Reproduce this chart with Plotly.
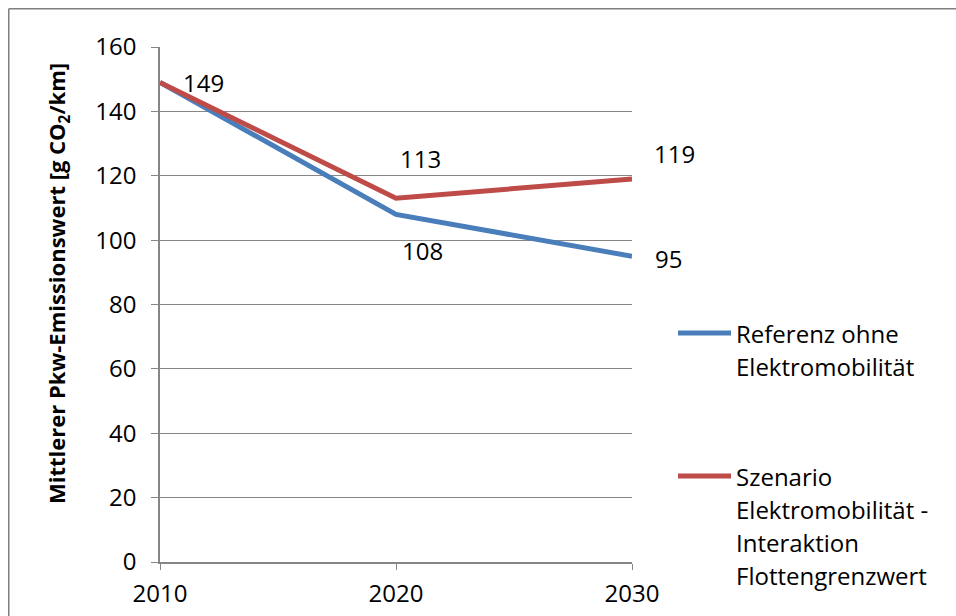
import plotly.graph_objects as go

years = [2010, 2020, 2030]
referenz = [149, 108, 95]
szenario = [149, 113, 119]
series_names = ["Referenz ohne Elektromobilität",
                "Szenario Elektromobilität - Interaktion Flottengrenzwert"]
legend_lines = [["Referenz ohne", "Elektromobilität"],
                ["Szenario", "Elektromobilität -", "Interaktion", "Flottengrenzwert"]]
colors = ["#4A7EBB", "#BE4B48"]
y_ticks = [0, 20, 40, 60, 80, 100, 120, 140, 160]
y_title = "Mittlerer Pkw-Emissionswert [g CO<sub>2</sub>/km]"

FONT = "Open Sans"
FS = 24
OFF = 0  # page body margin (removed via post_script)
W, H = 956, 616
PL, PT, PR, PB = 160, 47, 632, 562  # plot area in page pixels
ML, MT = PL - OFF, PT - OFF
PW, PH = PR - PL, PB - PT
MR, MB = W - ML - PW, H - MT - PH


def px_x(px):
    return (px - PL) / PW


def px_y(py):
    return (PB - py) / PH


fig = go.Figure()
for name, vals, col in zip(series_names, [referenz, szenario], colors):
    fig.add_trace(go.Scatter(x=years, y=vals, mode="lines", name=name,
                             line=dict(color=col, width=5), showlegend=False))

# data labels (offsets in pixels)
label_offsets = {
    0: [(43, 0), (26, -36), (36, -2)],
    1: [(None, None), (24, 40), (42, 25)],
}
for si, vals in enumerate([referenz, szenario]):
    for i, (x, v) in enumerate(zip(years, vals)):
        dx, dy = label_offsets[si][i]
        if dx is None:
            continue
        fig.add_annotation(x=x, y=v, xref="x", yref="y", text=str(v), showarrow=False,
                           xshift=dx, yshift=dy, xanchor="center", yanchor="middle",
                           font=dict(family=FONT, size=FS, color="#000000"))

# custom legend
legend_top = [333, 476]
line_gap = 33
for col, lines, ytop in zip(colors, legend_lines, legend_top):
    fig.add_shape(type="line", xref="paper", yref="paper",
                  x0=px_x(678), x1=px_x(731), y0=px_y(ytop), y1=px_y(ytop),
                  line=dict(color=col, width=5))
    for k, t in enumerate(lines):
        fig.add_annotation(xref="paper", yref="paper", x=px_x(734), y=px_y(ytop + k * line_gap),
                           text=t, showarrow=False, xanchor="left", yanchor="middle",
                           font=dict(family=FONT, size=FS, color="#000000"))

# y-axis title
fig.add_annotation(xref="paper", yref="paper", x=px_x(58), y=px_y(284), text=y_title,
                   textangle=-90, showarrow=False, xanchor="center", yanchor="middle",
                   font=dict(family=FONT, size=22, color="#000000", weight="bold"))

# outer frame (top and left edges visible)
fig.add_shape(type="line", xref="paper", yref="paper", x0=px_x(8.75), x1=px_x(970),
              y0=px_y(8.75), y1=px_y(8.75), line=dict(color="#7F7F7F", width=1.5))
fig.add_shape(type="line", xref="paper", yref="paper", x0=px_x(8.75), x1=px_x(8.75),
              y0=px_y(8.75), y1=px_y(630), line=dict(color="#7F7F7F", width=1.5))

fig.update_layout(
    width=W, height=H,
    margin=dict(l=ML, r=MR, t=MT, b=MB, pad=0),
    paper_bgcolor="white", plot_bgcolor="white",
    font=dict(family=FONT, size=FS, color="#000000"),
    showlegend=False,
)
fig.update_xaxes(range=[2010, 2030], tickvals=years, ticktext=[str(y) for y in years],
                 showgrid=False, zeroline=False, showline=True, linecolor="#868686",
                 linewidth=1.5, ticks="outside", ticklen=6, tickcolor="#868686",
                 tickfont=dict(family=FONT, size=FS), ticklabelstandoff=3,
                 automargin=False)
fig.update_yaxes(range=[0, 160], tickvals=y_ticks, showgrid=True, gridcolor="#868686",
                 gridwidth=1, zeroline=False, showline=True, linecolor="#868686",
                 linewidth=1.5, ticks="outside", ticklen=7, tickcolor="#868686",
                 tickfont=dict(family=FONT, size=FS), ticklabelstandoff=10,
                 automargin=False)

fig.write_html("out.html", config={"displayModeBar": False},
               post_script="document.body.style.margin='0';"
                           "document.documentElement.style.overflow='hidden';"
                           "document.body.style.overflow='hidden';")
